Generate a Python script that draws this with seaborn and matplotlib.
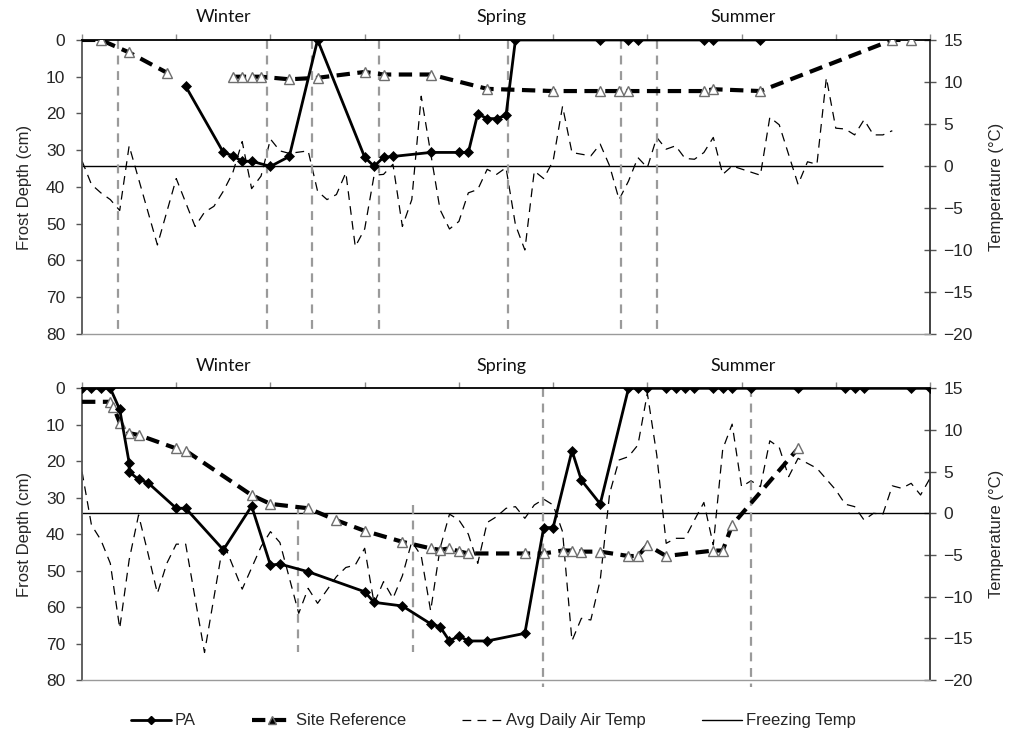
import numpy as np
import pandas as pd
import matplotlib
matplotlib.use("Agg")
import matplotlib.pyplot as plt
import seaborn as sns
from matplotlib.lines import Line2D

sns.set_style("white")
plt.rcParams['font.family'] = ['Liberation Sans', 'DejaVu Sans']

# x = days since start of record (readings every ~3 days), ticks every 30 days
month_ticks = list(range(0, 271, 30))
season_names = ["Winter", "Spring", "Summer"]
season_days = [45.2, 133.4, 210.5]

# ---------------- upper site ----------------
top_pa_day = [33, 45, 48, 51, 54, 60, 66, 75, 90, 93, 96, 99, 111, 120, 123, 126, 129, 132, 135,
              138, 165, 174, 177, 198, 201, 216]
top_pa_depth = [12.6, 30.6, 31.5, 33, 33, 34.4, 31.7, 0, 31.9, 34.4, 31.9, 31.7, 30.6, 30.6, 30.6,
                20.1, 21.4, 21.4, 20.5, 0, 0, 0, 0, 0, 0, 0]

top_ref_day = [0, 6, 15, 27,
               48, 51, 54, 57, 66, 75, 90, 96, 111, 129, 150, 165, 171, 174, 198, 201, 216, 258, 264]
top_ref_depth = [0, 0, 3.4, 8.9,
                 10, 10, 10, 10, 10.7, 10.3, 8.7, 9.4, 9.4, 13.3, 13.9, 13.9, 13.9, 13.9, 13.9, 13.4,
                 13.9, 0, 0]
top_ref_seg = [0] * 4 + [1] * 19

top_air_day = [0, 3, 6, 9, 12, 15, 24, 30, 36, 39, 42, 45, 48, 51, 54, 57, 60, 63, 66, 72, 75, 78,
               81, 84, 87, 90, 93, 96, 99, 102, 105, 108, 114, 117, 120, 123, 126, 129, 132, 135,
               138, 141, 144, 147, 150, 153, 156, 162, 165, 168, 171, 174, 177, 180, 183, 186, 189,
               192, 195, 198, 201, 204, 207, 216, 219, 222, 228, 231, 234, 237, 240, 243, 246, 249,
               252, 255, 258]
top_air_temp = [0.6, -2.2, -3.2, -4.0, -5.3, 2.4, -9.4, -1.5, -7.2, -5.5, -4.8, -3.0, -0.8, 2.9,
                -2.7, -1.2, 3.2, 1.8, 1.5, 1.8, -3.0, -4.0, -3.4, -0.8, -9.6, -7.5, -1.1, -1.0, 0.2,
                -7.2, -4.0, 8.3, -5.2, -7.5, -6.6, -3.2, -2.8, -0.4, -1.0, -0.2, -7.0, -10.0, -0.6,
                -1.5, 0.6, 7.1, 1.6, 1.2, 2.6, 0.0, -4.0, -1.8, 1.0, -0.2, 3.4, 2.0, 2.4, 0.9, 0.8,
                1.6, 3.4, -1.0, 0.0, -1.1, 5.8, 4.9, -2.2, 0.5, 0.2, 10.5, 4.5, 4.4, 3.7, 5.5, 3.7,
                3.7, 4.2]
top_freeze_end = 255
top_events = [11.5, 59, 73.3, 94.6, 135.7, 171.6, 183.2]
top_event_from = [0] * 7
top_event_to = [80] * 7

# ---------------- lower site ----------------
bot_pa_day = [0, 3, 6, 9, 12, 15, 15, 18, 21, 30, 33, 45, 54, 60, 63, 72, 90, 93, 102, 111, 114,
              117, 120, 123, 129, 141, 147, 150, 156, 159, 165, 174, 177, 180, 186, 189, 192, 195,
              201, 204, 207, 213, 228, 243, 246, 249, 264, 270]
bot_pa_depth = [0, 0, 0, 0, 5.8, 20.4, 22.9, 25, 25.9, 32.9, 32.9, 44.3, 32.3, 48.5, 48.2, 50.3,
                55.8, 58.7, 59.7, 64.6, 65.4, 69.3, 67.9, 69.3, 69.3, 67.2, 38.2, 38.2, 17.1, 25.2,
                31.7, 0, 0, 0, 0, 0, 0, 0, 0, 0, 0, 0, 0, 0, 0, 0, 0, 0]

bot_ref_day = [0, 9, 10, 12, 15, 18, 30, 33, 54, 60, 72, 81, 90, 102, 111, 114, 117, 120, 123, 141,
               147, 153, 156, 159, 165, 174, 177, 180, 186, 201, 204, 207, 228]
bot_ref_depth = [3.7, 3.7, 5.0, 9.4, 12.3, 12.8, 16.5, 17.1, 29.3, 31.7, 32.9, 36.2, 39.1, 42.1,
                 43.9, 44.3, 43.9, 44.7, 45.3, 45.3, 45.3, 44.5, 44.5, 44.8, 44.8, 46, 46, 43, 46,
                 44.5, 44.5, 37.5, 16.5]
bot_ref_seg = [0] * 33

bot_air_day = [0, 3, 6, 9, 12, 15, 18, 21, 24, 27, 30, 33, 39, 45, 51, 57, 60, 63, 69, 72, 75, 81,
               84, 87, 90, 93, 96, 99, 102, 105, 108, 111, 114, 117, 120, 123, 126, 129, 132, 135,
               138, 141, 144, 147, 150, 153, 156, 159, 162, 165, 168, 171, 174, 177, 180, 183,
               186, 189, 192, 195, 198, 201, 204, 207, 210, 213, 216, 219, 222, 225, 228, 234,
               240, 243, 246, 249, 252, 255, 258, 261, 264, 267, 270]
bot_air_temp = [5.0, -1.4, -3.2, -6.0, -13.8, -5.6, -0.2, -4.8, -9.6, -6.0, -3.7, -3.7, -16.7,
                -3.5, -9.1, -4.0, -2.2, -3.5, -12.0, -9.0, -10.8, -7.6, -6.5, -6.2, -4.2, -10.8,
                -8.2, -10.2, -7.5, -3.4, -5.1, -11.7, -4.2, -0.1, -0.8, -2.5, -6.0, -1.1, -0.4,
                0.6, 0.8, -0.6, 1.0, 1.7, 1.0, -2.2, -15.3, -12.6, -12.8, -8.0, 2.4, 6.4, 6.8,
                8.2, 14.4, 7.0, -3.6, -3.0, -3.0, -0.8, 1.3, -3.8, 7.7, 10.7, 3.2, 3.9, 3.2, 8.7,
                7.9, 4.4, 6.6, 5.4, 2.8, 1.1, 0.8, -0.8, 0.0, -0.1, 3.3, 3.0, 3.6, 2.2, 4.2]
bot_freeze_end = 270
bot_events = [68.9, 105.5, 146.9, 212.9]
bot_event_from = [32, 32, 0, 0]
bot_event_to = [72.3, 72.3, 82, 82]


def draw_panel(ax, pa_day, pa_depth, ref_day, ref_depth, ref_seg, air_day, air_temp,
               freeze_end, ev_day, ev_from, ev_to):
    ax_t = ax.twinx()
    ax.set_zorder(ax_t.get_zorder() + 1)
    ax.patch.set_visible(False)

    # temperature on the right axis
    sns.lineplot(x=air_day, y=air_temp, ax=ax_t, color="black", lw=0.9,
                 linestyle=(0, (7, 5)), estimator=None, sort=False)
    ax_t.hlines(0, 0, freeze_end, color="black", lw=1.0)

    # event lines
    ax.vlines(ev_day, ev_from, ev_to, colors="#9a9a9a", lw=1.6,
              linestyles=(0, (4, 3)), clip_on=False, zorder=1)

    ref = pd.DataFrame({"day": ref_day, "depth": ref_depth, "seg": ref_seg})
    n_before = len(ax.lines)
    sns.lineplot(data=ref, x="day", y="depth", units="seg", estimator=None, sort=False, ax=ax,
                 color="black", lw=3.0, linestyle=(0, (3.2, 1.8)), marker="^", ms=6.5,
                 mfc="white", mec="#6e6e6e", mew=1.0, zorder=3)
    # the record starts at the left edge without a triangle
    first = ax.lines[n_before]
    first.set_markevery(list(range(1, len(first.get_xdata()))))

    sns.lineplot(x=pa_day, y=pa_depth, ax=ax, color="black", lw=2.0, marker="D", ms=4.8,
                 mec="black", mew=0.5, estimator=None, sort=False, zorder=4)

    ax.set_xlim(0, 270)
    ax.set_ylim(80, 0)
    ax_t.set_ylim(-20, 15)
    ax.set_yticks(range(0, 81, 10))
    ax_t.set_yticks(range(-20, 16, 5))
    ax.xaxis.tick_top()
    ax.set_xticks(month_ticks)
    ax.set_xticklabels([])
    ax.tick_params(axis="x", direction="out", length=4, width=1, color="#8a8a8a")
    ax.tick_params(axis="y", direction="out", length=4, width=1, color="#555555",
                   labelsize=12.5, pad=8)
    ax_t.tick_params(axis="y", direction="inout", length=9, width=1, color="#555555",
                     labelsize=12.5, pad=5)
    ax.set_xlabel("")
    ax.set_ylabel("Frost Depth (cm)", fontsize=12, labelpad=10)
    ax_t.set_ylabel("Temperature (°C)", fontsize=12, labelpad=12)

    for s in ["top", "left", "bottom"]:
        ax_t.spines[s].set_visible(False)
    ax.spines["right"].set_visible(False)
    ax.spines["top"].set_color("black")
    ax.spines["top"].set_linewidth(1.3)
    ax.spines["left"].set_color("#555555")
    ax.spines["left"].set_linewidth(1.3)
    ax.spines["bottom"].set_color("#9a9a9a")
    ax.spines["bottom"].set_linewidth(1.0)
    ax_t.spines["right"].set_color("#333333")
    ax_t.spines["right"].set_linewidth(1.3)

    for name, d in zip(season_names, season_days):
        ax.text(d, 1.077, name, transform=ax.get_xaxis_transform(), ha="center", va="center",
                fontsize=13, family=["Lato", "DejaVu Sans"], color="#111111")


fig = plt.figure(figsize=(10.09, 7.36), dpi=100)
ax_top = fig.add_axes([0.0813, 0.5462, 0.8404, 0.3995])
ax_bot = fig.add_axes([0.0813, 0.0761, 0.8404, 0.3963])

draw_panel(ax_top, top_pa_day, top_pa_depth, top_ref_day, top_ref_depth, top_ref_seg,
           top_air_day, top_air_temp, top_freeze_end, top_events, top_event_from, top_event_to)
draw_panel(ax_bot, bot_pa_day, bot_pa_depth, bot_ref_day, bot_ref_depth, bot_ref_seg,
           bot_air_day, bot_air_temp, bot_freeze_end, bot_events, bot_event_from, bot_event_to)

handles = [
    Line2D([0, 0.5, 1], [0, 0, 0], color="black", lw=2.0, marker="D", ms=4.5, markevery=[1]),
    Line2D([0, 0.5, 1], [0, 0, 0], color="black", lw=3.0, linestyle=(0, (3.2, 1.8)), marker="^",
           ms=6, mfc="black", mec="#6e6e6e", markevery=[1]),
    Line2D([], [], color="black", lw=0.9, linestyle=(0, (7, 5))),
    Line2D([], [], color="black", lw=1.0),
]
fig.legend(handles, ["PA", "Site Reference", "Avg Daily Air Temp", "Freezing Temp"],
           loc="center", bbox_to_anchor=(0.489, 0.0204), ncol=4, frameon=False,
           fontsize=12, handlelength=2.4, handletextpad=0.2, columnspacing=3.4)

fig.savefig("out.png", dpi=100)
